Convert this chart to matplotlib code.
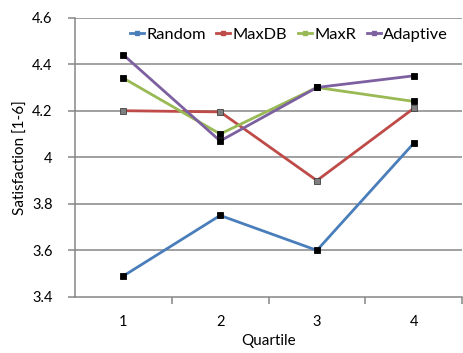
import matplotlib.pyplot as plt
from matplotlib.lines import Line2D

plt.rcParams['font.family'] = ['Lato', 'DejaVu Sans']

quartiles = [1, 2, 3, 4]
random_vals = [3.49, 3.75, 3.60, 4.06]
maxdb_vals = [4.20, 4.195, 3.90, 4.21]
maxr_vals = [4.34, 4.10, 4.30, 4.24]
adaptive_vals = [4.44, 4.07, 4.30, 4.35]

series = [
    ('Random', random_vals, '#4a7ebb', 'black'),
    ('MaxDB', maxdb_vals, '#be4b48', '#7f7f7f'),
    ('MaxR', maxr_vals, '#98b954', 'black'),
    ('Adaptive', adaptive_vals, '#7d60a0', 'black'),
]

fig = plt.figure(figsize=(4.63, 3.53), dpi=100)
ax = fig.add_axes([0.162, 0.159, 0.836, 0.791])

grid_c = '#868686'
for yv in [3.6, 3.8, 4.0, 4.2, 4.4, 4.6]:
    ax.axhline(yv, color=grid_c, lw=1.1, zorder=1)

handles = []
for name, vals, col, mcol in series:
    ax.plot(quartiles, vals, color=col, lw=2, zorder=3)
    ax.plot(quartiles, vals, ls='none', marker='s', ms=4.8, mfc=mcol,
            mec='#404040' if mcol != 'black' else 'black', mew=0.6, zorder=4)
    handles.append(Line2D([0], [0], color=col, lw=2, marker='s', ms=2.5,
                          mfc=col, mec=col))

ax.set_xlim(0.5, 4.5)
ax.set_ylim(3.4, 4.6)
ax.set_xticks(quartiles)
ax.set_xticks([1.5, 2.5, 3.5, 4.5], minor=True)
ax.set_yticks([3.4, 3.6, 3.8, 4.0, 4.2, 4.4, 4.6])
ax.set_yticklabels(['3.4', '3.6', '3.8', '4', '4.2', '4.4', '4.6'])
ax.tick_params(axis='x', which='major', length=0, pad=13, labelsize=10.5)
ax.tick_params(axis='x', which='minor', length=5, color=grid_c, width=1.1)
ax.tick_params(axis='y', length=5, color=grid_c, width=1.1, labelsize=10.5,
               pad=11)

for s in ['top', 'right']:
    ax.spines[s].set_visible(False)
for s in ['left', 'bottom']:
    ax.spines[s].set_color(grid_c)
    ax.spines[s].set_linewidth(1.1)

ax.set_xlabel('Quartile', fontsize=11, labelpad=4)
ax.set_ylabel('Satisfaction [1-6]', fontsize=11, labelpad=3)

ax.legend(handles, [s[0] for s in series], loc='center',
          bbox_to_anchor=(0.553, 0.94), ncol=4, frameon=False, fontsize=11.8,
          handlelength=0.85, handletextpad=0.15, columnspacing=0.65,
          borderpad=0, borderaxespad=0)

fig.savefig('out.png', dpi=100)
